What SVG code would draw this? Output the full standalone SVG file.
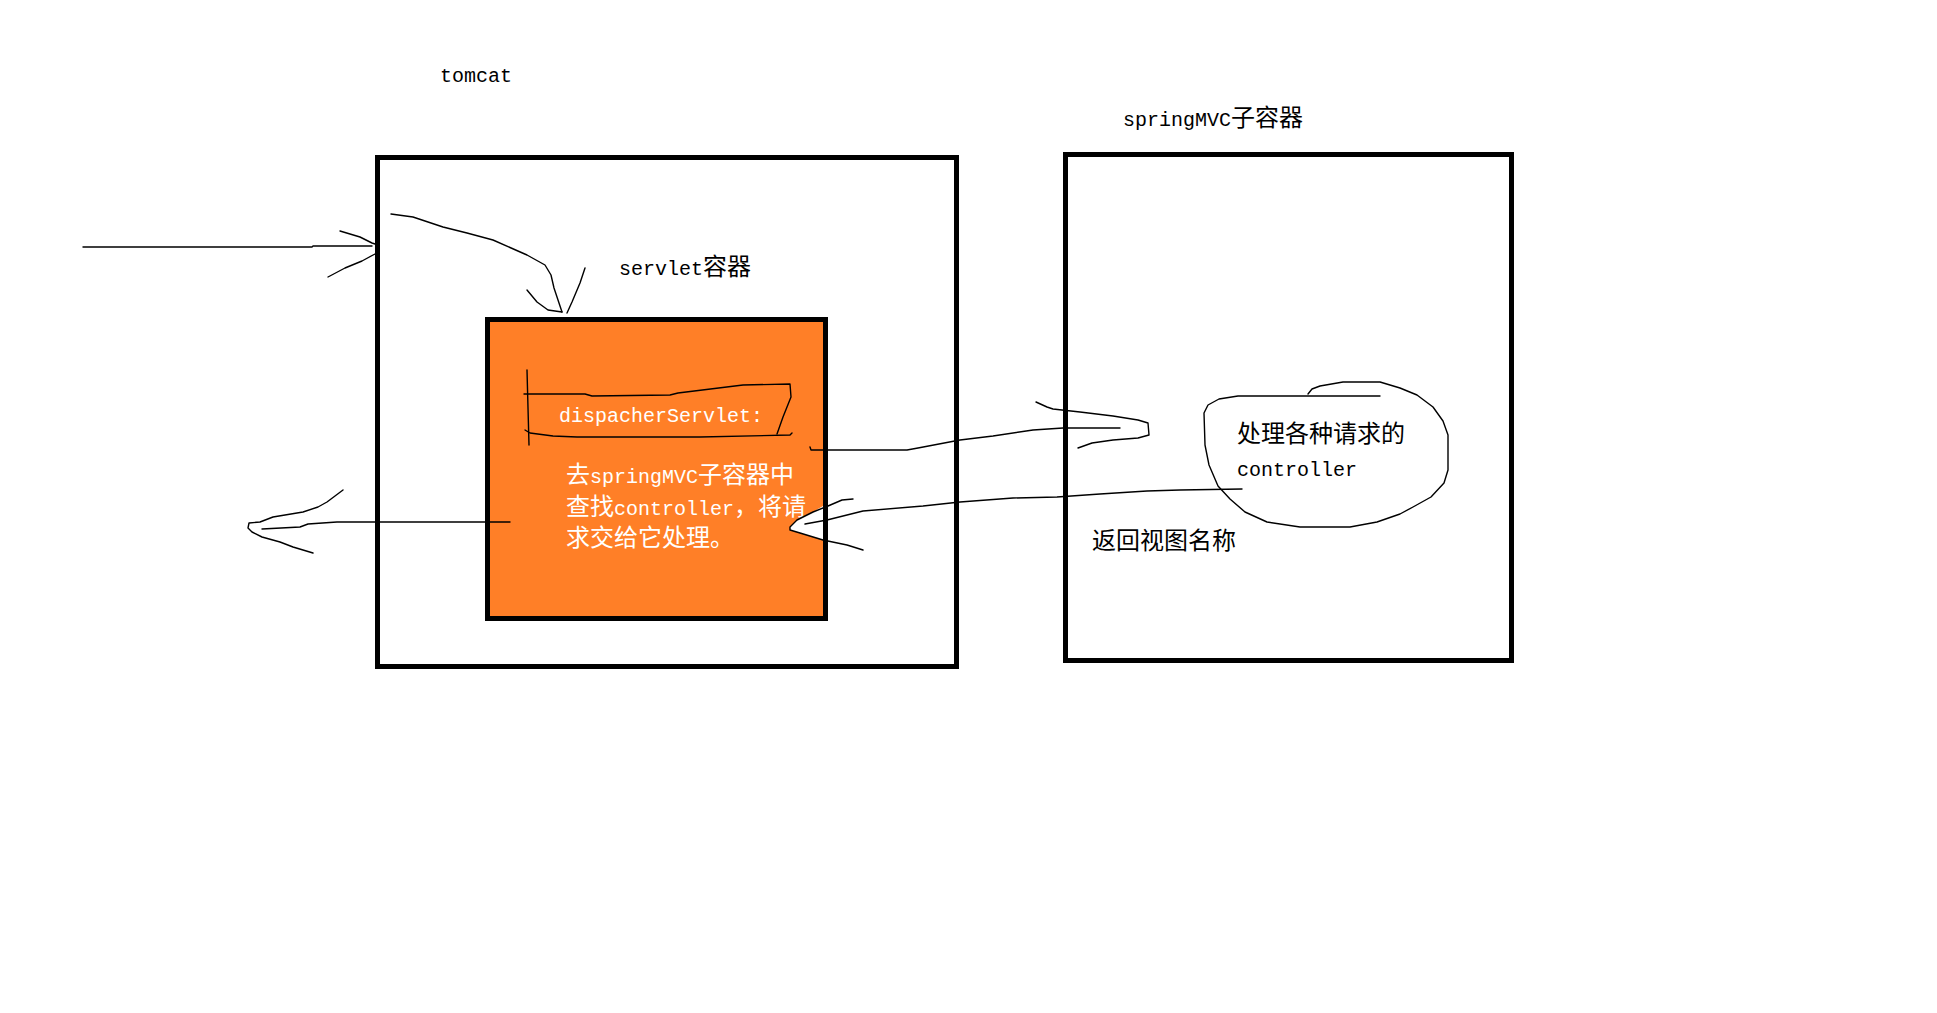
<svg xmlns="http://www.w3.org/2000/svg" width="1937" height="1013" viewBox="0 0 1937 1013">
<style>
.box{fill:none;stroke:#000;stroke-width:5}
.ink{fill:none;stroke:#000;stroke-width:1.4;stroke-linejoin:round;stroke-linecap:round}
.t{font-family:"Liberation Mono","Noto Sans CJK SC",monospace;font-size:20px;fill:#000}
.w{fill:#fff}
.c{font-family:"Noto Sans CJK SC","Liberation Mono",sans-serif;font-size:24px}
</style>
<rect x="0" y="0" width="1937" height="1013" fill="#fff"/>

<g id="tomcat">
<rect class="box" x="377.5" y="157.5" width="579" height="509"/>
<text class="t" x="440" y="82">tomcat</text>
</g>

<g id="servlet-container">
<text class="t" x="619" y="275">servlet<tspan class="c">容器</tspan></text>
<rect x="487.5" y="319.5" width="338" height="299" fill="#FF7F27" stroke="#000" stroke-width="5"/>
<path d="M823,506 L813,512 L797,520 L790,527 L790,530 L800,533 L823,540 Z" fill="#fff"/>
</g>

<g id="dispatcher-servlet">
<path class="ink" d="M527,370 L528,408 L529,445"/>
<path class="ink" d="M524,394 L585,394 L592,396 L670,395 L678,393 L743,385 L790,384 L791,397 L783,417 L777,434"/>
<path class="ink" d="M525,430 L530,433 L553,436 L577,437 L700,437 L790,435 L792,433"/>
<text class="t w" x="559" y="422">dispacherServlet:</text>
<text class="t w" x="566" y="483"><tspan class="c">去</tspan>springMVC<tspan class="c">子容器中</tspan></text>
<text class="t w" x="566" y="515"><tspan class="c">查找</tspan>controller<tspan class="c">，将请</tspan></text>
<text class="t w" x="566" y="546"><tspan class="c">求交给它处理。</tspan></text>
</g>

<g id="springmvc">
<rect class="box" x="1065.5" y="154.5" width="446" height="506"/>
<text class="t" x="1123" y="126">springMVC<tspan class="c">子容器</tspan></text>
<text class="t" x="1092" y="549"><tspan class="c">返回视图名称</tspan></text>
</g>

<g id="controller">
<polyline class="ink" points="1308,394 1312,389 1320,386 1343,382 1380,382 1400,388 1417,395 1433,407 1443,421 1448,435 1448,470 1444,483 1431,497 1413,507 1400,514 1377,522 1350,527 1300,527 1267,522 1245,512 1230,499 1218,486 1209,465 1205,445 1204,413 1208,405 1219,399 1238,396 1380,396"/>
<text class="t" x="1237" y="442"><tspan class="c">处理各种请求的</tspan></text>
<text class="t" x="1237" y="476">controller</text>
</g>

<g id="connectors">
<path class="ink" d="M83,247 H312 L313,246 H372"/>
<path class="ink" d="M340,231 L360,237 L372,243 L375,244"/>
<path class="ink" d="M328,277 L345,268 L362,261 L375,254"/>

<polyline class="ink" points="391,214 413,217 443,227 467,233 493,240 527,255 545,265 551,275 554,288 558,300 562,312"/>
<polyline class="ink" points="527,290 537,302 548,310 562,312"/>
<polyline class="ink" points="585,268 580,283 572,302 567,313"/>

<path class="ink" d="M810,447 L811,450 L907,450 L918,448 L960,440 L993,436 L1033,430 L1063,428 L1120,428"/>
<polyline class="ink" points="1036,402 1047,407 1053,409 1080,412 1113,416 1138,420 1148,423 1149,435 1138,438 1113,440 1092,443 1078,448"/>

<polyline class="ink" points="1242,489 1180,490 1147,491 1100,494 1057,497 1013,498 960,502 923,506 863,511 827,520 805,524"/>
<polyline class="ink" points="853,499 842,500 828,506 813,512 797,520 790,527 790,530 800,533 823,540 847,545 863,550"/>

<polyline class="ink" points="510,522 375,522 337,522 308,524 300,527 262,529"/>
<polyline class="ink" points="343,490 327,502 318,507 303,512 273,517 260,522 249,523 248,528 252,532 262,537 280,542 293,547 313,553"/>
</g>
</svg>
